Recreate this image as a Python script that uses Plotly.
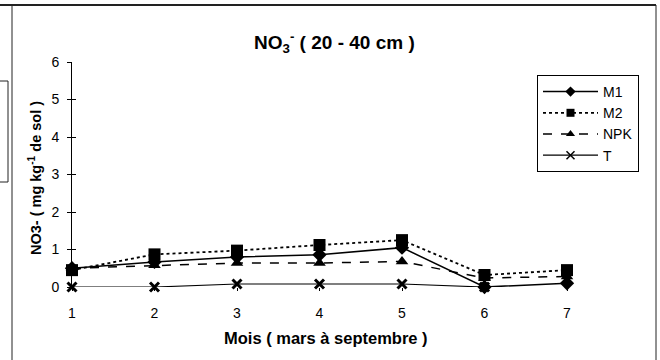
import plotly.graph_objects as go

# Monthly nitrate content, 20-40 cm layer (months 1..7 = March..September)
mois = [1, 2, 3, 4, 5, 6, 7]
m1 = [0.5, 0.67, 0.8, 0.86, 1.05, 0.0, 0.1]
m2 = [0.45, 0.87, 0.97, 1.12, 1.25, 0.32, 0.45]
npk = [0.5, 0.58, 0.64, 0.64, 0.68, 0.24, 0.28]
t = [0.0, 0.0, 0.08, 0.08, 0.08, 0.0, -0.06]
y_ticks = [0, 1, 2, 3, 4, 5, 6]

W, H = 660, 360
L, R, T, B = 72, 567, 62, 287  # plot area in pixels


def px(x):
    return (x - L) / (R - L)


def py(y):
    return (B - y) / (B - T)


FONT = "Liberation Sans, Arial, sans-serif"

fig = go.Figure()
series = [
    ("M1", m1, dict(dash="solid", width=1.5),
     dict(symbol="diamond", size=11), dict(symbol="diamond", size=8)),
    ("M2", m2, dict(dash="dot", width=1.8),
     dict(symbol="square", size=12), dict(symbol="square", size=8)),
    ("NPK", npk, dict(dash="dash", width=1.5),
     dict(symbol="triangle-up", size=11), dict(symbol="triangle-up", size=8)),
    ("T", t, dict(dash="solid", width=1.2),
     dict(symbol="x-thin", size=9, line=dict(width=3, color="black")),
     dict(symbol="x-thin", size=8, line=dict(width=1.5, color="black"))),
]
for name, vals, ln, mk, lmk in series:
    # data line
    fig.add_trace(go.Scatter(
        x=mois, y=vals, name=name, mode="lines+markers", legendgroup=name,
        line=dict(color="black", **ln),
        marker=dict(color="black", **mk),
        cliponaxis=False, showlegend=False,
    ))
    # legend entry with smaller key marker
    fig.add_trace(go.Scatter(
        x=[None], y=[None], name=name, mode="lines+markers", legendgroup=name,
        line=dict(color="black", **ln),
        marker=dict(color="black", **lmk),
        showlegend=True,
    ))

# Frame lines around the figure
frame = [
    (0, 5, 656, 5, 2),
    (12, 5, 12, 360, 1),
    (656, 5, 656, 360, 1),
    (0, 81, 8, 81, 1),
    (8, 81, 8, 182, 1),
    (0, 182, 8, 182, 1),
]
shapes = []
for x0, y0, x1, y1, w in frame:
    shapes.append(dict(type="line", xref="paper", yref="paper",
                       x0=px(x0), y0=py(y0), x1=px(x1), y1=py(y1),
                       line=dict(color="#222", width=w)))

annotations = [
    dict(text="<b>NO<sub>3</sub><sup>-</sup> ( 20 - 40 cm )</b>",
         xref="paper", yref="paper", x=px(334), y=py(42),
         xanchor="center", yanchor="middle",
         showarrow=False, font=dict(family=FONT, size=19, color="black")),
    dict(text="<b>NO3- ( mg kg<sup>-1</sup> de sol )</b>",
         xref="paper", yref="paper", x=px(35), y=py(178), textangle=-90,
         xanchor="center", yanchor="middle",
         showarrow=False, font=dict(family=FONT, size=14.5, color="black")),
    dict(text="<b>Mois ( mars à septembre )</b>",
         xref="paper", yref="paper", x=px(326), y=py(338),
         xanchor="center", yanchor="middle",
         showarrow=False, font=dict(family=FONT, size=16.5, color="black")),
]

fig.update_layout(
    width=W, height=H,
    margin=dict(l=L, r=W - R, t=T, b=H - B, pad=0),
    paper_bgcolor="white", plot_bgcolor="white",
    font=dict(family=FONT, size=14, color="black"),
    showlegend=True,
    legend=dict(x=px(537), y=py(75), xanchor="left", yanchor="top",
                bordercolor="black", borderwidth=1, bgcolor="white",
                itemwidth=55, font=dict(size=14, family=FONT),
                tracegroupgap=0),
    shapes=shapes,
    annotations=annotations,
    xaxis=dict(range=[1, 7], tickvals=mois, showgrid=False, zeroline=False,
               showline=False, ticks="outside", ticklen=3, tickcolor="black",
               ticklabelstandoff=10, tickfont=dict(size=14)),
    yaxis=dict(range=[0, 6], tickvals=y_ticks, showgrid=False, zeroline=False,
               showline=True, linecolor="black", linewidth=1,
               ticks="outside", ticklen=4, tickcolor="black",
               ticklabelstandoff=5, tickfont=dict(size=14)),
    yaxis2=dict(range=[0, 6], tickvals=y_ticks, overlaying="y", side="left",
                showgrid=False, zeroline=False, showline=False,
                ticks="inside", ticklen=4, tickcolor="black",
                showticklabels=False),
)
# invisible trace to activate the inner tick axis
fig.add_trace(go.Scatter(x=[1], y=[0], yaxis="y2", mode="markers",
                         marker=dict(opacity=0), showlegend=False,
                         hoverinfo="skip"))

fig.write_html("out.html")
